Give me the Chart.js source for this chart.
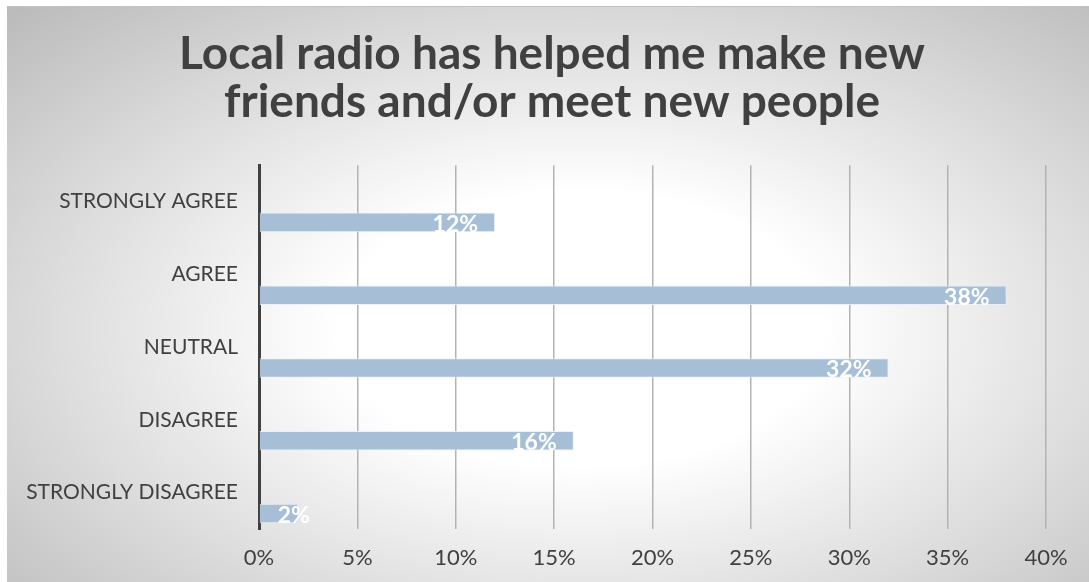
<!DOCTYPE html>
<html>
<head>
<meta charset="utf-8">
<script src="https://cdn.jsdelivr.net/npm/chart.js@4.4.1/dist/chart.umd.min.js"></script>
<style>
  html, body { margin: 0; padding: 0; background: #fff; }
  #frame {
    position: absolute; left: 7px; top: 6px;
    width: 1082px; height: 575px;
    border-top: 1px solid #c2c2c2;
    background: radial-gradient(ellipse farthest-corner at 53% 56%, #ffffff 0%, #ffffff 30%, #bababa 100%);
  }
  #chart { display: block; }
</style>
</head>
<body>
<div id="frame"><canvas id="chart" width="1082" height="575"></canvas></div>
<script>
const titleLines = ['Local radio has helped me make new', 'friends and/or meet new people'];
const categories = ['STRONGLY AGREE', 'AGREE', 'NEUTRAL', 'DISAGREE', 'STRONGLY DISAGREE'];
const shares     = [12, 38, 32, 16, 2];   // percent of respondents
const spacer     = [null, null, null, null, null]; // empty slot so bars sit under their label
const xMax  = 40;
const xStep = 5;

const TEXT = '#404040';
const FONT = "Lato, 'Open Sans', sans-serif";

// white % label inside the end of each bar
const barLabels = {
  id: 'barLabels',
  afterDatasetsDraw(chart) {
    const ctx  = chart.ctx;
    const meta = chart.getDatasetMeta(1);
    ctx.save();
    ctx.font = 'bold 23px ' + FONT;
    ctx.fillStyle = '#ffffff';
    ctx.textBaseline = 'middle';
    ctx.textAlign = 'left';
    meta.data.forEach((bar, i) => {
      const txt = shares[i] + '%';
      const w = ctx.measureText(txt).width;
      let left = bar.x - 17 - w;
      if (left < bar.base + 18) left = bar.base + 18;
      ctx.fillText(txt, left, bar.y + 2);
    });
    ctx.restore();
  }
};

const ctx = document.getElementById('chart').getContext('2d');
new Chart(ctx, {
  type: 'bar',
  data: {
    labels: categories,
    datasets: [
      { label: '', data: spacer, backgroundColor: 'rgba(0,0,0,0)' },
      {
        label: 'Share',
        data: shares,
        backgroundColor: '#a6bfd7',
        borderColor: 'rgba(232,240,247,0.9)',
        borderWidth: 1,
        borderSkipped: 'left'
      }
    ]
  },
  options: {
    indexAxis: 'y',
    responsive: false,
    animation: false,
    categoryPercentage: 1.15,
    barPercentage: 0.47,
    layout: { padding: { left: 8, right: 0, top: 0, bottom: 0 } },
    plugins: {
      legend: { display: false },
      tooltip: { enabled: false },
      title: {
        display: true,
        text: titleLines,
        color: TEXT,
        font: { family: FONT, size: 46, weight: 'bold', lineHeight: 1.045 },
        padding: { top: 23, bottom: 39 }
      }
    },
    scales: {
      x: {
        min: 0,
        max: xMax,
        ticks: {
          stepSize: xStep,
          color: TEXT,
          padding: 16,
          font: { family: FONT, size: 22 },
          callback: v => v + '%'
        },
        grid: { color: '#b3b3b3', lineWidth: 1.5, drawTicks: false },
        border: { display: false },
        afterFit: scale => { scale.height = 53; scale.paddingRight = 43; }
      },
      y: {
        ticks: {
          color: TEXT,
          padding: 21,
          font: { family: FONT, size: 21 }
        },
        grid: { display: false, drawTicks: false },
        border: { color: '#404040', width: 3 },
        afterFit: scale => { scale.width = 244; }
      }
    }
  },
  plugins: [barLabels]
});
</script>
</body>
</html>
